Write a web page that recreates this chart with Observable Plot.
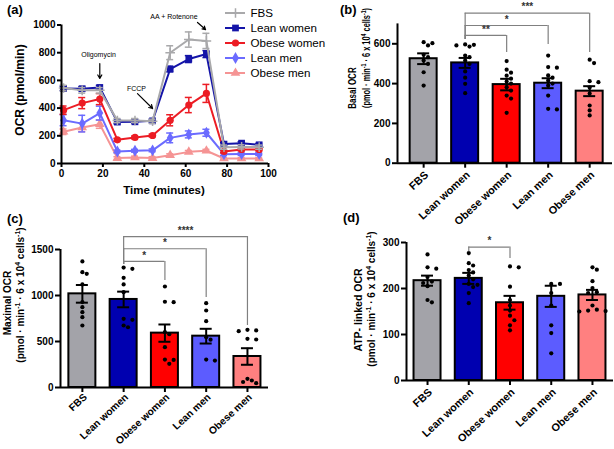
<!DOCTYPE html>
<html><head><meta charset="utf-8">
<script src="https://cdn.jsdelivr.net/npm/d3@7"></script>
<script src="https://cdn.jsdelivr.net/npm/@observablehq/plot@0.6"></script>
<style>
body{margin:0;background:#fff;}
#fig{position:relative;width:614px;height:449px;overflow:hidden;background:#fff;font-family:"Liberation Sans",Arial,sans-serif;}
.pane{position:absolute;}
.pane svg{overflow:visible;background:transparent;max-width:none;}
.lbl{position:absolute;white-space:nowrap;font-weight:bold;color:#000;font-size:10px;line-height:10px;transform:translate(-50%,-50%) rotate(-90deg);}
.lbl sup{font-size:70%;line-height:0;vertical-align:4px;}
.hl{position:absolute;white-space:nowrap;font-weight:bold;color:#000;transform:translate(-50%,-50%);}
.tag{position:absolute;font-weight:bold;font-size:13px;line-height:13px;color:#000;}
</style></head><body><div id="fig"></div>
<script>
// ---------- data ----------
const groups = ["FBS", "Lean women", "Obese women", "Lean men", "Obese men"];
// panel (a): OCR time course (mean ± SEM)
const times = [1, 10, 18.5, 27, 35.5, 44, 52.5, 61.5, 70, 78.5, 87, 95.5];
const ocrFBS    = [545, 528, 528, 310, 310, 305, 800, 895, 885, 118, 120, 118];
const semFBS    = [20, 20, 20, 15, 15, 15, 50, 55, 55, 15, 15, 15];
const ocrLeanW  = [542, 540, 549, 299, 301, 308, 682, 754, 790, 140, 147, 135];
const semLeanW  = [15, 15, 15, 12, 12, 12, 20, 25, 25, 10, 10, 10];
const ocrObeseW = [385, 436, 465, 171, 188, 202, 312, 422, 506, 87, 101, 101];
const semObeseW = [30, 40, 40, 10, 10, 10, 40, 55, 65, 10, 10, 10];
const ocrLeanM  = [313, 288, 364, 87, 92, 95, 185, 210, 222, 67, 68, 68];
const semLeanM  = [40, 60, 50, 10, 10, 10, 35, 25, 25, 10, 10, 10];
const ocrObeseM = [229, 260, 284, 39, 43, 39, 60, 84, 92, 36, 36, 36];
const semObeseM = [20, 30, 30, 10, 10, 10, 10, 10, 10, 6, 6, 6];
// panel (a) annotations
const annoText = ["Oligomycin", "FCCP", "AA + Rotenone"];
const annoX = [17.9, 36.2, 54.3];
const annoY = [787, 541, 1056];
const arrowX1 = [18.5, 36.7, 65.7], arrowY1 = [722, 505, 1018];
const arrowX2 = [18.5, 44, 69.6],  arrowY2 = [614, 397, 967];

// panel (b): basal OCR
const basalMean = [525, 504, 395, 402, 362];
const basalSEM  = [27, 25, 29, 25, 25];
const basalFBS    = [608, 603, 592, 545, 533, 516, 499, 457, 390];
const basalLeanW  = [597, 595, 592, 586, 541, 533, 516, 499, 461, 430, 399, 352];
const basalObeseW = [513, 470, 455, 440, 425, 410, 400, 382, 365, 340, 325, 253];
const basalLeanM  = [541, 483, 480, 441, 430, 415, 400, 390, 340, 273, 270];
const basalObeseM = [520, 503, 412, 407, 380, 350, 290, 265, 240];
const basalSigTo = [2, 3, 4], basalSigLabel = ["**", "*", "***"];
const basalSigLevel = [642, 692, 754], basalSigEnd = [556, 597, 556], basalSigStart = 622;

// panel (c): maximal OCR
const maxMean = [1018, 957, 591, 558, 337];
const maxSEM  = [96, 85, 94, 80, 90];
const maxFBS    = [1370, 1253, 1236, 1120, 928, 873, 819, 764, 674];
const maxLeanW  = [1304, 1290, 1192, 1120, 1036, 747, 736, 674, 655];
const maxObeseW = [1098, 932, 927, 601, 580, 438, 304, 300, 257];
const maxLeanM  = [917, 837, 721, 547, 520, 304, 293];
const maxObeseM = [627, 620, 612, 529, 522, 94, 76, 60, 47];
const maxSigTo = [2, 3, 4], maxSigLabel = ["*", "*", "****"];
const maxSigLevel = [1370, 1508, 1641], maxSigEnd = [1163, 978, 674], maxSigStart = 1337;

// panel (d): ATP-linked OCR
const atpMean = [217, 222, 169, 183, 186];
const atpSEM  = [11, 12, 15, 23, 11];
const atpFBS    = [274, 246, 243, 225, 215, 212, 205, 175, 170];
const atpLeanW  = [277, 255, 250, 240, 235, 228, 220, 210, 208, 203, 190, 168];
const atpObeseW = [248, 246, 204, 175, 163, 152, 141, 131, 120, 109];
const atpLeanM  = [210, 210, 190, 163, 120, 103, 59];
const atpObeseM = [246, 241, 216, 201, 192, 190, 163, 154, 152, 151, 150];
const atpSigTo = [2], atpSigLabel = ["*"];
const atpSigLevel = [290], atpSigEnd = [265], atpSigStart = 280;

// ---------- styling ----------
const lineColors = ["#a9a9ab", "#1414a8", "#ec1c24", "#6b6bff", "#f59494"];
const barColors  = ["#a3a3a9", "#0000b0", "#ff0000", "#5c5cff", "#ff8080"];
const symbols    = ["plus", "square", "circle", "diamond", "triangle"];
const symR       = [3.2, 3.8, 3.6, 3.6, 3.6];
const FONT = "'Liberation Sans', Arial, sans-serif";
const fmt = d => String(d);
const fig = document.getElementById("fig");

function place(node, left, top) {
  const d = document.createElement("div");
  d.className = "pane"; d.style.left = left + "px"; d.style.top = top + "px";
  d.appendChild(node); fig.appendChild(d);
}
function html(str) { fig.insertAdjacentHTML("beforeend", str); }

// ---------- panel (a) ----------
const seriesMeans = [ocrFBS, ocrLeanW, ocrObeseW, ocrLeanM, ocrObeseM];
const seriesSEMs  = [semFBS, semLeanW, semObeseW, semLeanM, semObeseM];
const drawOrder = [4, 3, 2, 1, 0];
const aMarks = [];
for (const s of drawOrder) {
  const rows = times.map((t, k) => ({t, v: seriesMeans[s][k], e: seriesSEMs[s][k]}));
  const c = lineColors[s];
  aMarks.push(
    Plot.line(rows, {x: "t", y: "v", stroke: c, strokeWidth: 2}),
    Plot.ruleX(rows, {x: "t", y1: d => d.v - d.e, y2: d => d.v + d.e, stroke: c, strokeWidth: 1.5}),
    Plot.ruleY(rows, {y: d => d.v + d.e, x1: "t", x2: "t", insetLeft: -3.5, insetRight: -3.5, stroke: c, strokeWidth: 1.5}),
    Plot.ruleY(rows, {y: d => d.v - d.e, x1: "t", x2: "t", insetLeft: -3.5, insetRight: -3.5, stroke: c, strokeWidth: 1.5}),
    s === 0
      ? Plot.dot(rows, {x: "t", y: "v", symbol: symbols[s], r: symR[s], stroke: c, strokeWidth: 1.5})
      : Plot.dot(rows, {x: "t", y: "v", symbol: symbols[s], r: symR[s], fill: c})
  );
}
const anno = annoText.map((txt, k) => ({txt, x: annoX[k], y: annoY[k], x1: arrowX1[k], y1: arrowY1[k], x2: arrowX2[k], y2: arrowY2[k]}));
const plotA = Plot.plot({
  width: 275, height: 200, marginLeft: 61, marginRight: 7, marginTop: 24.5, marginBottom: 37,
  x: {domain: [0, 100]}, y: {domain: [0, 1000]},
  style: {fontFamily: FONT, fontSize: "10px", fontWeight: "bold", background: "transparent", color: "black", overflow: "visible"},
  marks: [
    ...aMarks,
    Plot.ruleY([0], {y: d => d, stroke: "black", strokeWidth: 2}),
    Plot.ruleX([0], {x: d => d, y1: () => 0, y2: () => 1000, stroke: "black", strokeWidth: 2}),
    Plot.axisY({ticks: [0, 200, 400, 600, 800, 1000], tickFormat: fmt, tickSize: 4, tickPadding: 2, strokeWidth: 2, label: null}),
    Plot.axisX({ticks: [0, 20, 40, 60, 80, 100], tickFormat: fmt, tickSize: 4, tickPadding: 2, strokeWidth: 2, label: null}),
    Plot.text(anno, {x: "x", y: "y", text: "txt", fontSize: 7, fontWeight: "normal", fill: "black"}),
    Plot.arrow(anno, {x1: "x1", y1: "y1", x2: "x2", y2: "y2", headLength: 5, strokeWidth: 1.2, stroke: "black"})
  ]
});
place(plotA, 0, 0);
html(`<div class="lbl" style="left:20px;top:90px;font-size:12px;">OCR (pmol/min)</div>`);
html(`<div class="hl" style="left:164px;top:190px;font-size:11.5px;">Time (minutes)</div>`);

// legend for (a)
const legIdx = d3.range(groups.length);
const legMarks = [
  Plot.ruleY(legIdx, {y: d => d, x1: () => 7, x2: () => 27, stroke: d => lineColors[d], strokeWidth: 2}),
  Plot.text(legIdx, {y: d => d, x: () => 32, text: d => groups[d], textAnchor: "start", fontSize: 11.6, fontWeight: "normal", fill: "black"})
];
legIdx.forEach(s => legMarks.push(
  s === 0
    ? Plot.dot([s], {y: d => d, x: () => 17, symbol: symbols[s], r: symR[s], stroke: lineColors[s], strokeWidth: 1.5})
    : Plot.dot([s], {y: d => d, x: () => 17, symbol: symbols[s], r: symR[s], fill: lineColors[s]})
));
const legend = Plot.plot({
  width: 100, height: 85, margin: 0, axis: null,
  x: {domain: [0, 100], range: [0, 100]}, y: {domain: [0, 4], range: [12.5, 72.5]},
  color: {type: "identity"},
  style: {fontFamily: FONT, background: "transparent", color: "black", overflow: "visible"},
  marks: legMarks
});
place(legend, 218, 0);

// ---------- bar panels ----------
function swarm(vals, k) {
  const order = d3.range(vals.length).sort((a, b) => vals[b] - vals[a]);
  const placed = [], off = new Array(vals.length).fill(0), d = 4.6;
  for (const j of order) {
    const py = vals[j] * k;
    for (const s of [0, 1, -1, 2, -2, 3, -3, 4, -4]) {
      const px = s * d * 0.95;
      if (placed.every(p => Math.hypot(p[0] - px, p[1] - py) >= d)) { off[j] = px; placed.push([px, py]); break; }
    }
  }
  return off;
}
function barPanel(cfg) {
  const idx = d3.range(groups.length);
  const plotH = cfg.height - cfg.mT - cfg.mB, plotW = cfg.width - cfg.mL - cfg.mR;
  const pxX = plotW / (cfg.xDomain[1] - cfg.xDomain[0]);
  const pxY = plotH / cfg.yMax;
  const dots = [];
  cfg.pts.forEach((vals, g) => {
    const offs = swarm(vals, pxY);
    vals.forEach((v, j) => dots.push({x: g + offs[j] / pxX, y: v}));
  });
  const bars = idx.map(i => ({i, m: cfg.means[i], s: cfg.sems[i]}));
  const hw = 13.5 / pxX;
  const br = cfg.sigTo.map((t, k) => ({a: 1, b: t, lvl: cfg.sigLevel[k], end: cfg.sigEnd[k], lab: cfg.sigLabel[k]}));
  const p = Plot.plot({
    width: cfg.width, height: cfg.height,
    marginLeft: cfg.mL, marginRight: cfg.mR, marginTop: cfg.mT, marginBottom: cfg.mB,
    x: {domain: cfg.xDomain}, y: {domain: [0, cfg.yMax]},
    color: {type: "identity"},
    style: {fontFamily: FONT, fontSize: "10px", fontWeight: "bold", background: "transparent", color: "black", overflow: "visible"},
    marks: [
      Plot.rect(bars, {x1: d => d.i - hw, x2: d => d.i + hw, y1: () => 0, y2: "m", fill: d => barColors[d.i], stroke: "black", strokeWidth: 2}),
      Plot.dot(dots, {x: "x", y: "y", r: 2.1, fill: "black"}),
      Plot.ruleX(bars, {x: "i", y1: d => d.m - d.s, y2: d => d.m + d.s, stroke: "black", strokeWidth: 2}),
      Plot.ruleY(bars, {y: d => d.m + d.s, x1: "i", x2: "i", insetLeft: -6, insetRight: -6, stroke: "black", strokeWidth: 2}),
      Plot.ruleY(bars, {y: d => d.m - d.s, x1: "i", x2: "i", insetLeft: -6, insetRight: -6, stroke: "black", strokeWidth: 2}),
      Plot.ruleY([0], {y: d => d, stroke: "black", strokeWidth: 2}),
      Plot.ruleX([cfg.xDomain[0]], {x: d => d, y1: () => 0, y2: () => cfg.yMax, stroke: "black", strokeWidth: 2}),
      Plot.axisY({ticks: cfg.yTicks, tickFormat: fmt, tickSize: 5, tickPadding: 2, strokeWidth: 2, label: null}),
      Plot.axisX({ticks: idx, tickSize: 5, strokeWidth: 2, tickFormat: () => "", label: null}),
      Plot.text(idx, {x: d => d, text: d => groups[d], frameAnchor: "bottom", rotate: -43, textAnchor: "end", lineAnchor: "middle", dx: 3, dy: cfg.labelDy, fontSize: cfg.labelSize, fill: "black"}),
      // significance brackets
      Plot.ruleY(br, {y: "lvl", x1: "a", x2: "b", stroke: "#808080", strokeWidth: 1.2}),
      Plot.ruleX(br, {x: "a", y1: "lvl", y2: () => cfg.sigStart, stroke: "#808080", strokeWidth: 1.2}),
      Plot.ruleX(br, {x: "b", y1: "lvl", y2: "end", stroke: "#808080", strokeWidth: 1.2}),
      Plot.text(br, {x: d => (d.a + d.b) / 2, y: "lvl", text: "lab", dy: -6, fontSize: 10, fill: "#333"})
    ]
  });
  place(p, cfg.left, cfg.top);
}

barPanel({left: 340, top: 0, width: 274, height: 225, mL: 57, mR: 2, mT: 23.4, mB: 62.3,
  xDomain: [-0.63, 4.55], yMax: 700, yTicks: [0, 200, 400, 600], labelDy: 10, labelSize: 10.8,
  means: basalMean, sems: basalSEM, pts: [basalFBS, basalLeanW, basalObeseW, basalLeanM, basalObeseM],
  sigTo: basalSigTo, sigLabel: basalSigLabel, sigLevel: basalSigLevel, sigEnd: basalSigEnd, sigStart: basalSigStart});
barPanel({left: 0, top: 225, width: 275, height: 224, mL: 60, mR: 7, mT: 24, mB: 62,
  xDomain: [-0.53, 4.51], yMax: 1500, yTicks: [0, 500, 1000, 1500], labelDy: 8, labelSize: 10.2,
  means: maxMean, sems: maxSEM, pts: [maxFBS, maxLeanW, maxObeseW, maxLeanM, maxObeseM],
  sigTo: maxSigTo, sigLabel: maxSigLabel, sigLevel: maxSigLevel, sigEnd: maxSigEnd, sigStart: maxSigStart});
barPanel({left: 340, top: 225, width: 274, height: 224, mL: 66, mR: 1, mT: 17, mB: 69,
  xDomain: [-0.51, 4.51], yMax: 300, yTicks: [0, 100, 200, 300], labelDy: 10, labelSize: 10.8,
  means: atpMean, sems: atpSEM, pts: [atpFBS, atpLeanW, atpObeseW, atpLeanM, atpObeseM],
  sigTo: atpSigTo, sigLabel: atpSigLabel, sigLevel: atpSigLevel, sigEnd: atpSigEnd, sigStart: atpSigStart});

// axis titles
const unit = `(pmol · min<sup>-1</sup> · 6 x 10<sup>4</sup> cells<sup>-1</sup>)`;
html(`<div class="lbl" style="left:353px;top:88px;transform:translate(-50%,-50%) rotate(-90deg) scaleX(0.8);">Basal OCR</div>`);
html(`<div class="lbl" style="left:366.5px;top:58px;transform:translate(-50%,-50%) rotate(-90deg) scaleX(0.74);">${unit}</div>`);
html(`<div class="lbl" style="left:8px;top:303px;">Maximal OCR</div>`);
html(`<div class="lbl" style="left:21px;top:295px;">${unit}</div>`);
html(`<div class="lbl" style="left:358px;top:310px;font-size:10.5px;">ATP- linked OCR</div>`);
html(`<div class="lbl" style="left:372px;top:299px;">${unit}</div>`);

// panel tags
html(`<div class="tag" style="left:7px;top:3px;">(a)</div>`);
html(`<div class="tag" style="left:340px;top:3px;">(b)</div>`);
html(`<div class="tag" style="left:7px;top:212px;">(c)</div>`);
html(`<div class="tag" style="left:343px;top:211px;">(d)</div>`);
</script></body></html>
